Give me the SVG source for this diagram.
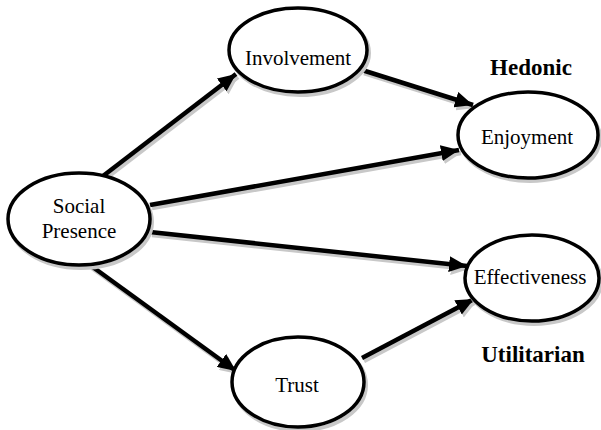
<svg xmlns="http://www.w3.org/2000/svg" width="601" height="430" viewBox="0 0 601 430">
<style>
.node{fill:#fff;stroke:#000;stroke-width:3.5}
.shadow{fill:none;stroke:#c8c8c8;stroke-width:4}
.lbl{font-family:'Liberation Serif','Times New Roman',Times,'DejaVu Serif',serif;font-size:21px;fill:#000;text-anchor:middle}
.cat{font-family:'Liberation Serif','Times New Roman',Times,'DejaVu Serif',serif;font-size:23px;font-weight:bold;fill:#000;text-anchor:middle}
.edge{stroke:#000;stroke-width:4.5;fill:none;marker-end:url(#ah)}
.edgeS{stroke:#c8c8c8;stroke-width:4.5;fill:none;marker-end:url(#ahs)}
</style>
<defs>
<marker id="ah" markerUnits="userSpaceOnUse" markerWidth="20" markerHeight="16" refX="18" refY="8" orient="auto"><path d="M0,0 L18,8 L0,16 Z" fill="#000"/></marker>
<marker id="ahs" markerUnits="userSpaceOnUse" markerWidth="20" markerHeight="16" refX="18" refY="8" orient="auto"><path d="M0,0 L18,8 L0,16 Z" fill="#c8c8c8"/></marker>
</defs>
<g id="connectors">
<g transform="translate(2,3)">
<line class="edgeS" x1="103" y1="176" x2="236" y2="74"/>
<line class="edgeS" x1="150" y1="205" x2="459" y2="150"/>
<line class="edgeS" x1="150" y1="232" x2="467" y2="266"/>
<line class="edgeS" x1="90" y1="265" x2="236" y2="371"/>
<line class="edgeS" x1="362" y1="70" x2="473" y2="105"/>
<line class="edgeS" x1="362" y1="358" x2="474" y2="299"/>
</g>
<line class="edge" x1="103" y1="176" x2="236" y2="74"/>
<line class="edge" x1="150" y1="205" x2="459" y2="150"/>
<line class="edge" x1="150" y1="232" x2="467" y2="266"/>
<line class="edge" x1="90" y1="265" x2="236" y2="371"/>
<line class="edge" x1="362" y1="70" x2="473" y2="105"/>
<line class="edge" x1="362" y1="358" x2="474" y2="299"/>
</g>
<g id="social">
<ellipse class="shadow" cx="81" cy="222" rx="71" ry="46"/>
<ellipse class="node" cx="79" cy="219" rx="71" ry="46"/>
<text class="lbl" x="79" y="213">Social</text>
<text class="lbl" x="79" y="238">Presence</text>
</g>
<g id="involvement">
<ellipse class="shadow" cx="300" cy="53" rx="69" ry="42"/>
<ellipse class="node" cx="298" cy="50" rx="69" ry="42"/>
<text class="lbl" x="298" y="65">Involvement</text>
</g>
<g id="enjoyment">
<ellipse class="shadow" cx="530" cy="138" rx="70" ry="43"/>
<ellipse class="node" cx="528" cy="135" rx="70" ry="43"/>
<text class="lbl" x="527" y="144">Enjoyment</text>
</g>
<g id="effectiveness">
<ellipse class="shadow" cx="534" cy="281" rx="67" ry="43"/>
<ellipse class="node" cx="532" cy="278" rx="67" ry="43"/>
<text class="lbl" x="530" y="284">Effectiveness</text>
</g>
<g id="trust">
<ellipse class="shadow" cx="300" cy="385" rx="66" ry="45"/>
<ellipse class="node" cx="298" cy="382" rx="66" ry="45"/>
<text class="lbl" x="297" y="392">Trust</text>
</g>
<g id="labels">
<text class="cat" x="531" y="75">Hedonic</text>
<text class="cat" x="533" y="362">Utilitarian</text>
</g>
</svg>
